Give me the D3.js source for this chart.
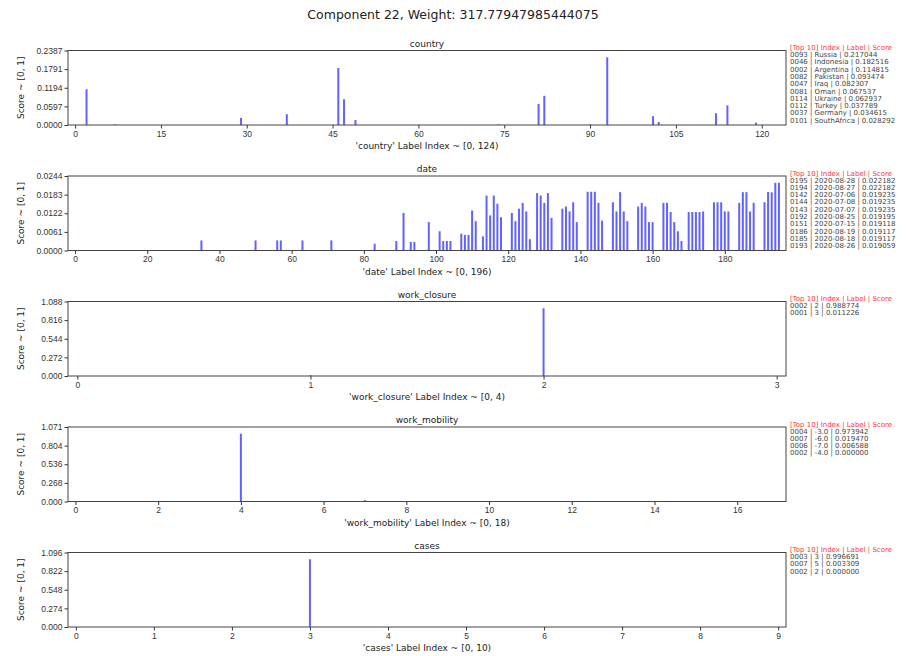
<!DOCTYPE html>
<html>
<head>
<meta charset="utf-8">
<script src="https://cdn.jsdelivr.net/npm/d3@7"></script>
<style>
  body { margin: 0; background: #fff; }
  svg { font-family: "DejaVu Sans", sans-serif; }
  .tick text { fill: #333; font-size: 8.5px; }
  .tick line { stroke: #333; }
  .domain { stroke: none; }
</style>
</head>
<body>
<div id="chart"></div>
<script>
// ---- data ----
const title = 'Component 22, Weight: 317.77947985444075';

const countryIdx = [2, 7, 29, 37, 46, 47, 49, 74, 81, 82, 90, 93, 101, 102, 112, 114, 119];
const countryVal = [0.114815, 0.002, 0.0227, 0.034615, 0.182516, 0.082307, 0.016, 0.002, 0.067537, 0.093474, 0.002, 0.217044, 0.028292, 0.0097, 0.037789, 0.062937, 0.0075];
const countryTop = ['0093 | Russia | 0.217044', '0046 | Indonesia | 0.182516', '0002 | Argentina | 0.114815',
    '0082 | Pakistan | 0.093474', '0047 | Iraq | 0.082307', '0081 | Oman | 0.067537', '0114 | Ukraine | 0.062937',
    '0112 | Turkey | 0.037789', '0037 | Germany | 0.034615', '0101 | SouthAfrica | 0.028292'];

const dateIdx = [35, 50, 56, 57, 63, 71, 83, 89, 91, 93, 94, 98, 101, 102, 103, 104, 107, 108, 109, 110, 111,
    113, 114, 115, 116, 117, 118, 121, 122, 123, 124, 125, 126, 128, 129, 130, 131, 132,
    135, 136, 137, 138, 139, 142, 143, 144, 145, 146, 149, 150, 151, 152, 153,
    156, 157, 158, 159, 160, 163, 164, 165, 166, 167, 168, 170, 171, 172, 173, 174,
    177, 178, 179, 180, 181, 184, 185, 186, 187, 188, 191, 192, 193, 194, 195];
const dateVal = [0.0033, 0.0033, 0.0033, 0.0033, 0.0033, 0.0033, 0.0022, 0.0031, 0.0123, 0.0028, 0.0028, 0.0093, 0.0063, 0.0031, 0.0031, 0.0031, 0.0055, 0.0051, 0.0051, 0.0131, 0.0096,
    0.0046, 0.0180, 0.0115, 0.0180, 0.0153, 0.0109, 0.0123, 0.0096, 0.0137, 0.0156, 0.0128, 0.0037, 0.0188, 0.0180, 0.0156, 0.0188, 0.0107,
    0.0137, 0.0144, 0.0128, 0.0158, 0.0093, 0.019235, 0.019235, 0.019235, 0.0156, 0.0098, 0.0158, 0.0128, 0.019118, 0.0128, 0.0096,
    0.0144, 0.0156, 0.0144, 0.0093, 0.0093, 0.0156, 0.0156, 0.0126, 0.0093, 0.0063, 0.0031, 0.0126, 0.0126, 0.0126, 0.0126, 0.0128,
    0.0158, 0.0158, 0.0158, 0.0128, 0.0128, 0.0156, 0.019117, 0.019117, 0.0128, 0.0156, 0.0158, 0.019195, 0.019059, 0.022182, 0.022182];
const dateTop = ['0195 | 2020-08-28 | 0.022182', '0194 | 2020-08-27 | 0.022182', '0142 | 2020-07-06 | 0.019235',
    '0144 | 2020-07-08 | 0.019235', '0143 | 2020-07-07 | 0.019235', '0192 | 2020-08-25 | 0.019195',
    '0151 | 2020-07-15 | 0.019118', '0186 | 2020-08-19 | 0.019117', '0185 | 2020-08-18 | 0.019117',
    '0193 | 2020-08-26 | 0.019059'];

const closureIdx = [2, 1];
const closureVal = [0.988774, 0.011226];
const closureTop = ['0002 | 2 | 0.988774', '0001 | 3 | 0.011226'];

const mobilityIdx = [4, 7, 6, 2];
const mobilityVal = [0.973942, 0.019470, 0.006588, 0.0];
const mobilityTop = ['0004 | -3.0 | 0.973942', '0007 | -6.0 | 0.019470', '0006 | -7.0 | 0.006588', '0002 | -4.0 | 0.000000'];

const casesIdx = [3, 7, 2];
const casesVal = [0.996691, 0.003309, 0.0];
const casesTop = ['0003 | 3 | 0.996691', '0007 | 5 | 0.003309', '0002 | 2 | 0.000000'];

const panels = [
    { name: 'country', n: 124, idx: countryIdx, val: countryVal, top: countryTop, xticks: d3.range(0, 121, 15), dec: 4 },
    { name: 'date', n: 196, idx: dateIdx, val: dateVal, top: dateTop, xticks: d3.range(0, 181, 20), dec: 4 },
    { name: 'work_closure', n: 4, idx: closureIdx, val: closureVal, top: closureTop, xticks: d3.range(0, 4), dec: 3 },
    { name: 'work_mobility', n: 18, idx: mobilityIdx, val: mobilityVal, top: mobilityTop, xticks: d3.range(0, 17, 2), dec: 3 },
    { name: 'cases', n: 10, idx: casesIdx, val: casesVal, top: casesTop, xticks: d3.range(0, 10), dec: 3 }
];

// ---- layout ----
const W = 906, H = 656;
const left = 68, right = 786, ph = 74.5;
const tops = [50.5, 176, 301.5, 427, 552.5];

const svg = d3.select('#chart').append('svg')
    .attr('width', W)
    .attr('height', H);

svg.append('text')
    .attr('x', 453)
    .attr('y', 19)
    .attr('text-anchor', 'middle')
    .attr('font-size', 12.5)
    .attr('fill', '#222')
    .text(title);

panels.forEach((p, i) => {
    const top = tops[i];
    const g = svg.append('g').attr('transform', `translate(0,${top})`);

    const ymax = d3.max(p.val) * 1.1;
    const x = d3.scaleLinear()
        .domain([-p.n * 0.01, (p.n - 1) + p.n * 0.01])
        .range([left, right]);
    const y = d3.scaleLinear()
        .domain([0, ymax])
        .range([ph, 0]);

    // bars
    g.selectAll('rect.bar')
        .data(p.idx.map((d, k) => ({ i: d, v: p.val[k] })))
        .join('rect')
        .attr('class', 'bar')
        .attr('x', d => x(d.i) - 1)
        .attr('width', 2)
        .attr('y', d => y(d.v))
        .attr('height', d => ph - y(d.v))
        .attr('fill', '#2020ff')
        .attr('fill-opacity', 0.7);

    // axes
    const yTicks = d3.range(5).map(k => ymax * k / 4);
    g.append('g')
        .attr('transform', `translate(${left},0)`)
        .call(d3.axisLeft(y).tickValues(yTicks).tickSize(3.5).tickPadding(2).tickFormat(d => d.toFixed(p.dec)));
    g.append('g')
        .attr('transform', `translate(0,${ph})`)
        .call(d3.axisBottom(x).tickValues(p.xticks).tickSize(3.5).tickPadding(2).tickFormat(d3.format('d')));

    // frame
    g.append('rect')
        .attr('x', left)
        .attr('y', 0)
        .attr('width', right - left)
        .attr('height', ph)
        .attr('fill', 'none')
        .attr('stroke', '#444')
        .attr('stroke-width', 1);

    // panel title
    g.append('text')
        .attr('x', (left + right) / 2)
        .attr('y', -4)
        .attr('text-anchor', 'middle')
        .attr('font-size', 9)
        .attr('fill', '#222')
        .text(p.name);

    // x label
    g.append('text')
        .attr('x', (left + right) / 2)
        .attr('y', ph + 24)
        .attr('text-anchor', 'middle')
        .attr('font-size', 9)
        .attr('fill', '#222')
        .text(`'${p.name}' Label Index ~ [0, ${p.n})`);

    // y label
    g.append('text')
        .attr('transform', `translate(24,${ph / 2}) rotate(-90)`)
        .attr('text-anchor', 'middle')
        .attr('font-size', 9)
        .attr('fill', '#222')
        .text('Score ~ [0, 1]');

    // top-10 listing
    const lg = g.append('g').attr('transform', `translate(790,0)`);
    lg.append('text')
        .attr('x', 0)
        .attr('y', -0.5)
        .attr('font-size', 7)
        .attr('fill', '#ff3344')
        .text('[Top 10] Index | Label | Score');
    lg.selectAll('text.row')
        .data(p.top)
        .join('text')
        .attr('class', 'row')
        .attr('x', 0)
        .attr('y', (d, k) => 6.5 + k * 7.3)
        .attr('font-size', 7)
        .attr('fill', '#444')
        .text(d => d);
});
</script>
</body>
</html>
